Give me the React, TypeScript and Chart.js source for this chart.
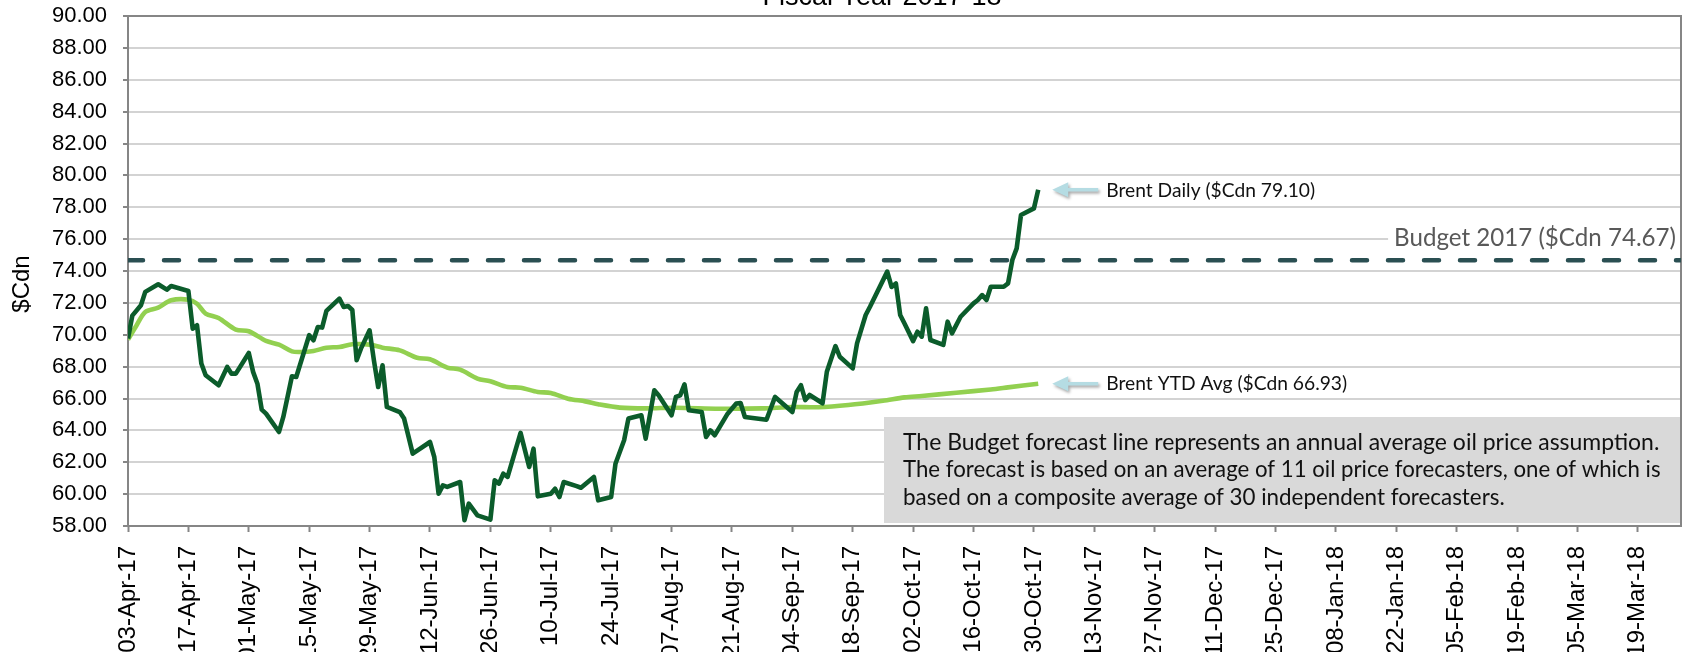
import React, { useEffect, useRef } from "react";
import { Chart, registerables } from "chart.js";

Chart.register(...registerables);

// ---- DATA ----
const chartTitle = "Fiscal Year 2017-18";
const yAxisTitle = "$Cdn";

// x axis: days since 03-Apr-17
const tickDays = [0, 14, 28, 42, 56, 70, 84, 98, 112, 126, 140, 154, 168, 182, 196, 210, 224, 238, 252, 266, 280, 294, 308, 322, 336, 350];
const tickLabels = [
  "03-Apr-17", "17-Apr-17", "01-May-17", "15-May-17", "29-May-17", "12-Jun-17", "26-Jun-17",
  "10-Jul-17", "24-Jul-17", "07-Aug-17", "21-Aug-17", "04-Sep-17", "18-Sep-17", "02-Oct-17",
  "16-Oct-17", "30-Oct-17", "13-Nov-17", "27-Nov-17", "11-Dec-17", "25-Dec-17", "08-Jan-18",
  "22-Jan-18", "05-Feb-18", "19-Feb-18", "05-Mar-18", "19-Mar-18",
];
const xMaxDay = 360;

const dailyDays = [
  0, 1, 3, 4, 7, 9, 10, 14, 15, 16, 17, 18, 21, 23, 24, 25, 28, 29, 30, 31, 32, 35, 36, 38, 39,
  42, 43, 44, 45, 46, 49, 50, 51, 52, 53, 54, 56, 57, 58, 59, 60, 63, 64, 66, 70, 71, 72, 73, 74,
  77, 78, 79, 81, 84, 85, 86, 87, 88, 91, 93, 94, 95, 98, 99, 100, 101, 104, 105, 108, 109, 112,
  113, 115, 116, 119, 120, 122, 123, 126, 127, 128, 129, 130, 133, 134, 135, 136, 139, 141, 142,
  143, 148, 150, 154, 155, 156, 157, 158, 161, 162, 164, 165, 168, 169, 171, 172, 176, 177, 178,
  179, 180, 182, 183, 184, 185, 186, 189, 190, 191, 193, 196, 197, 198, 199, 200, 203, 204, 205,
  206, 207, 210, 211,
];
const dailyValues = [
  69.76, 71.2, 71.85, 72.69, 73.17, 72.83, 73.06, 72.75, 70.38, 70.6, 68.2, 67.46, 66.83, 67.98,
  67.56, 67.56, 68.86, 67.67, 66.93, 65.3, 65.05, 63.9, 64.84, 67.39, 67.35,
  69.97, 69.65, 70.49, 70.45, 71.5, 72.27, 71.74, 71.8, 71.55, 68.4, 69.13, 70.28, 68.4, 66.72,
  68.08, 65.47, 65.15, 64.74, 62.54, 63.27, 62.33, 60.03, 60.55, 60.45,
  60.76, 58.36, 59.4, 58.67, 58.4, 60.87, 60.66, 61.28, 61.08, 63.84, 61.7, 62.85, 59.86, 60.03,
  60.34, 59.82, 60.76, 60.5, 60.4, 61.08, 59.61, 59.82,
  61.91, 63.38, 64.74, 64.95, 63.48, 66.51, 66.2, 64.95, 66.1, 66.2, 66.89, 65.26, 65.15, 63.59,
  64.0, 63.69, 65.05, 65.68, 65.72,
  64.84, 64.67, 66.1, 65.15, 66.41, 66.83, 65.9, 66.22, 65.7, 67.68, 69.29, 68.62, 67.89, 69.46,
  71.24, 71.76, 73.96, 73.0, 73.22,
  71.24, 70.71, 69.6, 70.19, 69.88, 71.66, 69.67, 69.36, 70.82, 70.09, 71.13, 71.97, 72.18, 72.49,
  72.18, 73.01, 73.01, 73.22, 74.69,
  75.42, 77.51, 77.93, 79.1,
];

const ytdDays = [
  0, 2, 4, 7, 10, 14, 16, 18, 21, 25, 28, 32, 35, 38, 40, 43, 46, 49, 52, 56, 59, 63, 67, 70, 74,
  77, 81, 84, 88, 91, 95, 98, 102, 106, 109, 114, 120, 127, 137, 147, 154, 160, 167, 175, 180,
  184, 192, 200, 204, 211,
];
const ytdValues = [
  69.7, 70.6, 71.43, 71.7, 72.16, 72.2, 71.95, 71.33, 71.05, 70.32, 70.22, 69.61, 69.38, 68.96,
  68.92, 68.98, 69.19, 69.23, 69.4, 69.38, 69.19, 69.02, 68.56, 68.46, 67.94,
  67.81, 67.25, 67.08, 66.72, 66.68, 66.41, 66.35, 65.99, 65.82, 65.64, 65.43, 65.38, 65.42,
  65.36, 65.38, 65.47, 65.45, 65.59, 65.86, 66.07,
  66.16, 66.36, 66.57, 66.7, 66.93,
];

const budgetValue = 74.67;
const budgetDays = [0, 360];

const seriesNames = ["Brent Daily", "Brent YTD Avg", "Budget 2017"];
const dailyLabel = "Brent Daily ($Cdn 79.10)";
const ytdLabel = "Brent YTD Avg ($Cdn 66.93)";
const budgetLabel = "Budget 2017 ($Cdn 74.67)";
const noteLines = [
  "The Budget forecast line represents an annual average oil price assumption.",
  "The forecast is based on an average of 11 oil price forecasters, one of which is",
  "based on a composite average of 30 independent forecasters.",
];

// ---- STYLE ----
const SANS = "'Liberation Sans', Arial, sans-serif";
const NOTE_FONT = "Lato, 'Noto Sans', sans-serif";
const OFFSET_TOP = 40;
const noteWidths = [757, 758, 602];

function fitSize(ctx: CanvasRenderingContext2D, text: string, family: string, width: number) {
  ctx.font = `100px ${family}`;
  const w = ctx.measureText(text).width;
  return (100 * width) / w;
}

function drawArrow(ctx: CanvasRenderingContext2D, tipX: number, y: number) {
  ctx.save();
  ctx.shadowColor = "rgba(0,0,0,0.35)";
  ctx.shadowBlur = 3;
  ctx.shadowOffsetX = 1.5;
  ctx.shadowOffsetY = 2;
  ctx.fillStyle = "#b5dce3";
  ctx.beginPath();
  ctx.moveTo(tipX, y);
  ctx.lineTo(tipX + 16, y - 7.5);
  ctx.lineTo(tipX + 16, y - 1.8);
  ctx.lineTo(tipX + 46, y - 1.8);
  ctx.lineTo(tipX + 46, y + 1.8);
  ctx.lineTo(tipX + 16, y + 1.8);
  ctx.lineTo(tipX + 16, y + 7.5);
  ctx.closePath();
  ctx.fill();
  ctx.restore();
}

const overlayPlugin = {
  id: "overlay",
  beforeDatasetsDraw(chart: any) {
    const { ctx, chartArea: a } = chart;
    ctx.save();
    ctx.strokeStyle = "#868686";
    ctx.lineWidth = 2;
    ctx.beginPath();
    ctx.moveTo(a.left, a.top);
    ctx.lineTo(a.right, a.top);
    ctx.lineTo(a.right, a.bottom);
    ctx.stroke();
    ctx.restore();
  },
  afterDatasetsDraw(chart: any) {
    const { ctx, chartArea: a, scales } = chart;
    const xs = scales.x;
    const ys = scales.y;
    ctx.save();

    const lastX = xs.getPixelForValue(dailyDays[dailyDays.length - 1]);
    const dY = ys.getPixelForValue(dailyValues[dailyValues.length - 1]);
    const yY = ys.getPixelForValue(ytdValues[ytdValues.length - 1]);
    drawArrow(ctx, lastX + 14, dY);
    drawArrow(ctx, lastX + 14, yY);
    ctx.fillStyle = "#111111";
    ctx.textAlign = "left";
    ctx.textBaseline = "middle";
    let s = fitSize(ctx, dailyLabel, NOTE_FONT, 209);
    ctx.font = `${s}px ${NOTE_FONT}`;
    ctx.fillText(dailyLabel, lastX + 68, dY + 1);
    s = fitSize(ctx, ytdLabel, NOTE_FONT, 241);
    ctx.font = `${s}px ${NOTE_FONT}`;
    ctx.fillText(ytdLabel, lastX + 68, yY);

    s = fitSize(ctx, budgetLabel, NOTE_FONT, 282);
    ctx.font = `${s}px ${NOTE_FONT}`;
    const bw = ctx.measureText(budgetLabel).width;
    const by = ys.getPixelForValue(76) - 1;
    const bx = a.right - 5;
    ctx.fillStyle = "#ffffff";
    ctx.fillRect(bx - bw - 6, by - 14, a.right - 1 - (bx - bw - 6), 28);
    ctx.fillStyle = "#595959";
    ctx.textAlign = "right";
    ctx.fillText(budgetLabel, bx, by);

    const boxL = a.right - 797;
    const boxT = a.bottom - 109;
    ctx.fillStyle = "#d9d9d9";
    ctx.fillRect(boxL, boxT, a.right - 1 - boxL, 106);
    ctx.fillStyle = "#111111";
    ctx.textAlign = "left";
    const offs = [26, 53, 81];
    noteLines.forEach((t, i) => {
      const fs = fitSize(ctx, t, NOTE_FONT, noteWidths[i]);
      ctx.font = `${fs}px ${NOTE_FONT}`;
      ctx.fillText(t, boxL + 19, boxT + offs[i]);
    });
    ctx.restore();
  },
  afterDraw(chart: any) {
    const { ctx } = chart;
    ctx.save();
    ctx.fillStyle = "#000000";
    ctx.font = `27px ${SANS}`;
    ctx.textAlign = "center";
    ctx.textBaseline = "alphabetic";
    ctx.fillText(chartTitle, 882, OFFSET_TOP + 4.5);
    ctx.translate(22, OFFSET_TOP + 284);
    ctx.rotate(-Math.PI / 2);
    ctx.font = `24px ${SANS}`;
    ctx.textBaseline = "middle";
    ctx.fillText(yAxisTitle, 0, 0);
    ctx.restore();
  },
};

export default function App() {
  const ref = useRef<HTMLCanvasElement | null>(null);
  useEffect(() => {
    if (!ref.current) return;
    const chart = new Chart(ref.current, {
      type: "line",
      data: {
        datasets: [
          {
            label: seriesNames[0],
            data: dailyDays.map((d, i) => ({ x: d, y: dailyValues[i] })),
            borderColor: "#0b5c2b",
            borderWidth: 4.6,
            pointRadius: 0,
            tension: 0,
            borderJoinStyle: "round",
            order: 0,
          },
          {
            label: seriesNames[1],
            data: ytdDays.map((d, i) => ({ x: d, y: ytdValues[i] })),
            borderColor: "#92d050",
            borderWidth: 4.6,
            pointRadius: 0,
            tension: 0.3,
            order: 1,
          },
          {
            label: seriesNames[2],
            data: budgetDays.map((d) => ({ x: d, y: budgetValue })),
            borderColor: "#2a4f52",
            borderWidth: 4.5,
            borderDash: [15, 21],
            borderCapStyle: "round",
            pointRadius: 0,
            order: 2,
          },
        ],
      },
      options: {
        animation: false,
        responsive: true,
        maintainAspectRatio: false,
        layout: { padding: { top: 56, right: 5, left: 0, bottom: 0 } },
        plugins: { legend: { display: false }, tooltip: { enabled: false }, title: { display: false } },
        scales: {
          x: {
            type: "linear",
            min: 0,
            max: xMaxDay,
            afterBuildTicks: (scale: any) => {
              scale.ticks = tickDays.map((v) => ({ value: v }));
            },
            afterFit: (scale: any) => {
              scale.height = 234;
            },
            ticks: {
              autoSkip: false,
              maxRotation: 90,
              minRotation: 90,
              padding: 14,
              color: "#000000",
              font: { family: SANS, size: 24 },
              callback: (v: any) => {
                const i = tickDays.indexOf(Number(v));
                return i >= 0 ? tickLabels[i] : "";
              },
            },
            grid: { drawOnChartArea: false, drawTicks: true, tickLength: 6, tickColor: "#868686", tickWidth: 2 },
            border: { display: true, color: "#868686", width: 2 },
          },
          y: {
            min: 58,
            max: 90,
            afterFit: (scale: any) => {
              scale.width = 128;
            },
            ticks: {
              stepSize: 2,
              padding: 16,
              color: "#000000",
              font: { family: SANS, size: 22 },
              callback: (v: any) => Number(v).toFixed(2),
            },
            grid: { color: "#d3d3d3", lineWidth: 2, tickLength: 5, tickColor: "#868686", tickWidth: 2 },
            border: { display: true, color: "#868686", width: 2 },
          },
        },
      },
      plugins: [overlayPlugin],
    } as any);
    return () => chart.destroy();
  }, []);
  return (
    <div style={{ position: "fixed", left: 0, top: -OFFSET_TOP, width: 1686, height: 800, background: "#ffffff" }}>
      <canvas ref={ref} />
    </div>
  );
}
